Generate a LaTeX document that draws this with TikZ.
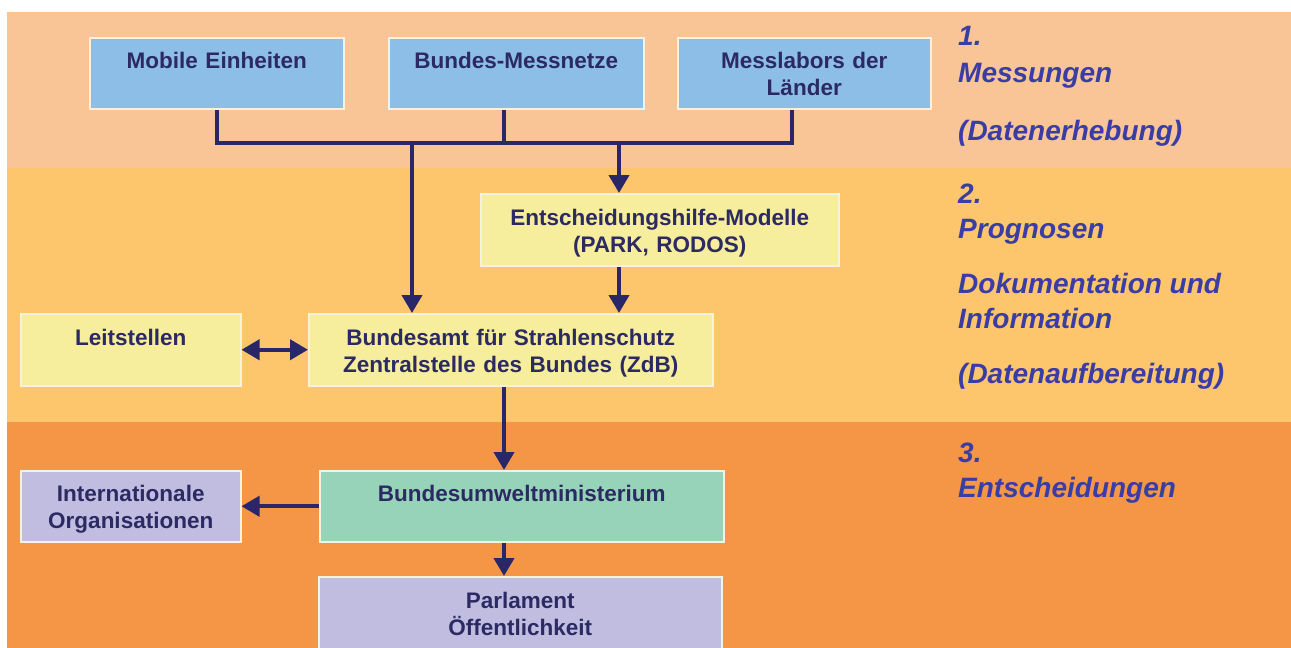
\documentclass[tikz,border=0pt]{standalone}
\usepackage{fontspec}
\setmainfont{Liberation Sans}
\usetikzlibrary{arrows.meta}
\definecolor{bandA}{HTML}{F9C496}
\definecolor{bandB}{HTML}{FDC56C}
\definecolor{bandC}{HTML}{F49645}
\definecolor{boxblue}{HTML}{8DBEE8}
\definecolor{boxyellow}{HTML}{F6EE9C}
\definecolor{boxgreen}{HTML}{96D3B9}
\definecolor{boxlilac}{HTML}{C0BDE0}
\definecolor{boxrim}{HTML}{F6F2E2}
\definecolor{linecol}{HTML}{2A2768}
\definecolor{boxtext}{HTML}{2C2A62}
\definecolor{stagecol}{HTML}{3A3DA5}
\begin{document}
\begin{tikzpicture}[x=1pt,y=-1pt,
  box/.style={draw=boxrim,line width=1.5pt,anchor=north west,inner sep=0pt,align=center,
    minimum height=71pt,text=boxtext,font=\fontsize{22.5}{27}\selectfont\bfseries,
    execute at begin node=\rule{0pt}{26pt},execute at end node=\rule[-8pt]{0pt}{8pt}},
  bus/.style={line width=4pt,draw=linecol},
  flow/.style={bus,-{Triangle[length=18pt,width=20pt]}},
  both/.style={bus,{Triangle[length=18pt,width=20pt]}-{Triangle[length=18pt,width=20pt]}},
  stage/.style={anchor=base west,inner sep=0pt,text=stagecol,font=\fontsize{28}{35}\selectfont\bfseries\itshape}]
\useasboundingbox (0,0) rectangle (1291,648);
\clip (0,0) rectangle (1291,648);
\fill[bandA] (7,12) rectangle (1291,168);
\fill[bandB] (7,168) rectangle (1291,422);
\fill[bandC] (7,422) rectangle (1291,648);

\node[box,fill=boxblue,text width=254pt] (mobil) at (89,37) {Mobile Einheiten\\\mbox{}};
\node[box,fill=boxblue,text width=255pt] (messnetz) at (388,37) {Bundes-Messnetze\\\mbox{}};
\node[box,fill=boxblue,text width=253pt] (labor) at (677,37) {Messlabors der\\Länder};
\node[box,fill=boxyellow,text width=358pt,minimum height=72pt] (modell) at (480,193) {Entscheidungshilfe-Modelle\\(PARK, RODOS)};
\node[box,fill=boxyellow,text width=220pt,minimum height=72pt] (leit) at (20,313) {Leitstellen\\\mbox{}};
\node[box,fill=boxyellow,text width=404pt,minimum height=72pt] (bfs) at (308,313) {Bundesamt für Strahlenschutz\\Zentralstelle des Bundes (ZdB)};
\node[box,fill=boxlilac,text width=220pt] (intorg) at (20,470) {Internationale\\Organisationen};
\node[box,fill=boxgreen,text width=404pt] (bmu) at (319,470) {Bundesumweltministerium\\\mbox{}};
\node[box,fill=boxlilac,text width=403pt,minimum height=72pt] (parl) at (318,576) {Parlament\\Öffentlichkeit};

\node[stage] (s1) at (958,45) {1.};
\node[stage] (s1a) at (958,82) {Messungen};
\node[stage] (s1b) at (958,140) {(Datenerhebung)};
\node[stage] (s2) at (958,203) {2.};
\node[stage] (s2a) at (958,238) {Prognosen};
\node[stage] (s2b) at (958,293) {Dokumentation und};
\node[stage] (s2c) at (958,328) {Information};
\node[stage] (s2d) at (958,383) {(Datenaufbereitung)};
\node[stage] (s3) at (958,462) {3.};
\node[stage] (s3a) at (958,497) {Entscheidungen};

\coordinate (bus) at (0,143);
\coordinate (tapA) at (412,143);
\coordinate (tapB) at (619,143);
\coordinate (spine) at (504,400);
\draw[bus] (mobil.south) -- (mobil.south |- bus) -- ([xshift=-12pt]labor.south |- bus) -- ([xshift=-12pt]labor.south);
\draw[bus] ([xshift=-12pt]messnetz.south) -- ([xshift=-12pt]messnetz.south |- bus);
\draw[flow] (tapA) -- (tapA |- bfs.north);
\draw[flow] (tapB) -- (tapB |- modell.north);
\draw[flow] (modell.south -| tapB) -- (tapB |- bfs.north);
\draw[both] (leit.east) -- (bfs.west);
\draw[flow] (bfs.south -| spine) -- (bmu.north -| spine);
\draw[flow] (bmu.west) -- (intorg.east);
\draw[flow] (bmu.south -| spine) -- (parl.north -| spine);
\end{tikzpicture}
\end{document}
